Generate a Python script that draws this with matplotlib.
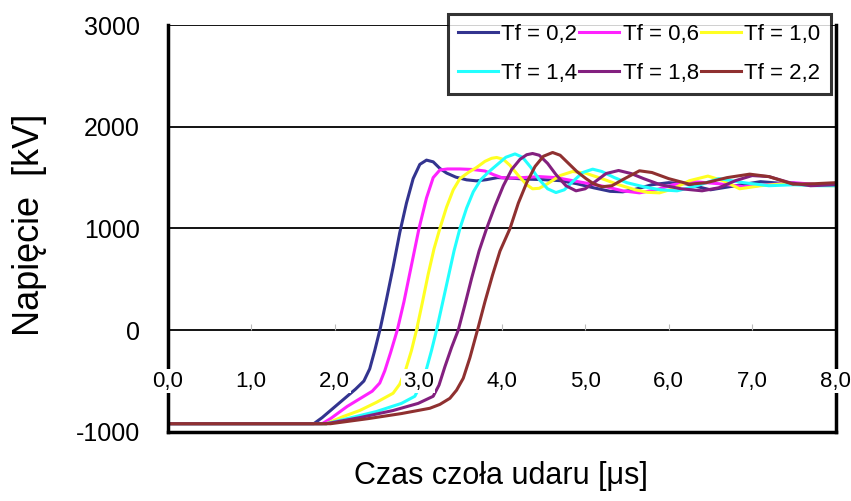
import matplotlib
matplotlib.use("Agg")
from matplotlib import pyplot as plt

plt.rcParams['font.family'] = ['Liberation Sans', 'DejaVu Sans']

# czas [us], napiecie [kV]
t_02 = [0, 1.75, 1.85, 1.95, 2.05, 2.15, 2.25, 2.35, 2.42, 2.48, 2.55, 2.62, 2.7, 2.78, 2.86, 2.94, 3.02,
        3.1, 3.18, 3.26, 3.34, 3.45, 3.58, 3.7, 3.82, 3.95, 4.1, 4.3, 4.5, 4.7, 4.9, 5.1, 5.3, 5.45,
        5.6, 5.8, 6.0, 6.2, 6.5, 6.8, 7.1, 7.4, 7.7, 8.0]
v_02 = [-920, -920, -860, -790, -720, -650, -580, -500, -380, -200, 30, 300, 620, 960, 1250, 1490, 1630,
        1672, 1655, 1590, 1545, 1505, 1478, 1468, 1480, 1500, 1495, 1485, 1480, 1470, 1440, 1400, 1365, 1360,
        1385, 1430, 1450, 1440, 1380, 1420, 1460, 1440, 1430, 1440]

t_06 = [0, 1.85, 1.95, 2.05, 2.15, 2.25, 2.35, 2.45, 2.54, 2.6, 2.67, 2.75, 2.83, 2.92, 3.01, 3.1, 3.18,
        3.26, 3.35, 3.5, 3.65, 3.8, 3.9, 4.0, 4.1, 4.25, 4.45, 4.65, 4.85, 5.05, 5.25, 5.45, 5.65, 5.85,
        6.05, 6.3, 6.6, 6.9, 7.2, 7.5, 7.8, 8.0]
v_06 = [-920, -920, -870, -810, -750, -700, -650, -600, -520, -400, -220, 0, 280, 640, 1000, 1300, 1500,
        1575, 1585, 1585, 1580, 1565, 1530, 1500, 1495, 1500, 1510, 1500, 1470, 1440, 1410, 1370, 1350, 1380,
        1430, 1460, 1440, 1410, 1430, 1450, 1430, 1430]

t_10 = [0, 1.9, 2.1, 2.3, 2.5, 2.7, 2.78, 2.85, 2.92, 2.98, 3.05, 3.12, 3.19, 3.26, 3.34, 3.42, 3.5,
        3.6, 3.7, 3.8, 3.88, 3.94, 4.02, 4.1, 4.2, 4.3, 4.37, 4.45, 4.55, 4.7, 4.85, 5.0, 5.2, 5.4,
        5.6, 5.75, 5.89, 6.05, 6.25, 6.47, 6.65, 6.85, 7.1, 7.4, 7.7, 8.0]
v_10 = [-920, -920, -850, -790, -710, -620, -530, -390, -200, 0, 270, 550, 800, 1000, 1210, 1380, 1490,
        1550, 1600, 1660, 1690, 1698, 1680, 1620, 1520, 1430, 1390, 1395, 1440, 1520, 1560, 1545, 1490, 1430,
        1380, 1355, 1350, 1390, 1470, 1515, 1470, 1390, 1420, 1440, 1425, 1420]

t_14 = [0, 1.9, 2.2, 2.5, 2.8, 2.96, 3.03, 3.1, 3.16, 3.22, 3.29, 3.36, 3.43, 3.5, 3.58, 3.66, 3.75,
        3.85, 3.95, 4.05, 4.16, 4.25, 4.35, 4.45, 4.55, 4.65, 4.75, 4.85, 4.97, 5.09, 5.2, 5.35, 5.5,
        5.7, 5.9, 6.1, 6.3, 6.6, 6.9, 7.2, 7.5, 7.8, 8.0]
v_14 = [-920, -920, -860, -800, -720, -650, -540, -380, -200, 0, 260, 520, 780, 1000, 1200, 1360, 1480,
        1560, 1630, 1700, 1733, 1700, 1600, 1480, 1390, 1353, 1380, 1460, 1550, 1583, 1560, 1500, 1450,
        1410, 1380, 1370, 1410, 1490, 1450, 1420, 1430, 1420, 1420]

t_18 = [0, 1.9, 2.3, 2.7, 3.0, 3.18, 3.25, 3.32, 3.4, 3.48, 3.56, 3.64, 3.73, 3.82, 3.92, 4.02, 4.12,
        4.22, 4.3, 4.37, 4.45, 4.55, 4.65, 4.77, 4.89, 5.0, 5.12, 5.25, 5.4, 5.55, 5.7, 5.9, 6.15,
        6.4, 6.6, 6.8, 7.0, 7.2, 7.45, 7.7, 8.0]
v_18 = [-920, -920, -860, -790, -720, -650, -540, -360, -170, 0, 250, 510, 780, 1000, 1220, 1420, 1580,
        1680, 1725, 1737, 1720, 1640, 1530, 1420, 1370, 1390, 1460, 1540, 1570, 1540, 1490, 1430, 1390,
        1370, 1400, 1470, 1520, 1510, 1450, 1420, 1430]

t_22 = [0, 1.95, 2.4, 2.8, 3.14, 3.26, 3.38, 3.46, 3.54, 3.62, 3.71, 3.8, 3.89, 3.98, 4.1, 4.2, 4.3,
        4.4, 4.5, 4.61, 4.7, 4.8, 4.9, 5.01, 5.1, 5.2, 5.32, 5.45, 5.65, 5.8, 6.0, 6.25, 6.45, 6.7,
        6.97, 7.2, 7.49, 7.75, 8.0]
v_22 = [-920, -920, -870, -820, -768, -730, -670, -590, -473, -270, 0, 280, 540, 778, 1000, 1250, 1450,
        1610, 1710, 1747, 1720, 1640, 1560, 1490, 1440, 1410, 1420, 1480, 1567, 1550, 1490, 1435, 1450, 1500,
        1534, 1510, 1435, 1440, 1450]

labels = ['Tf = 0,2', 'Tf = 0,6', 'Tf = 1,0', 'Tf = 1,4', 'Tf = 1,8', 'Tf = 2,2']
colors = ['#33348f', '#ff22ff', '#ffff22', '#22ffff', '#83207f', '#8f3030']
x_ticks = [0, 1, 2, 3, 4, 5, 6, 7, 8]
x_ticklabels = ['0,0', '1,0', '2,0', '3,0', '4,0', '5,0', '6,0', '7,0', '8,0']
y_ticks = [-1000, 0, 1000, 2000, 3000]

fig = plt.figure(figsize=(8.51, 5.01), dpi=100)
ax = fig.add_axes([0.197, 0.138, 0.785, 0.812])

series = [(t_02, v_02), (t_06, v_06), (t_10, v_10), (t_14, v_14), (t_18, v_18), (t_22, v_22)]
lines = []
for (t, v), lab, c in zip(series, labels, colors):
    ln, = ax.plot(t, v, color=c, lw=2.2, label=lab, solid_joinstyle='round')
    lines.append(ln)

ax.set_xlim(0, 8)
ax.set_ylim(-1000, 3000)
ax.set_yticks(y_ticks)
ax.set_yticklabels([str(y) for y in y_ticks], fontsize=18)
ax.tick_params(axis='y', length=0, pad=20)
ax.set_xticks([])
for y in [0, 1000, 2000, 3000]:
    ax.axhline(y, color='black', lw=1.3, zorder=0)

# tick marks on the 0 line + labels with white background
sec = ax.secondary_xaxis(0.25)
sec.set_xticks(x_ticks)
sec.set_xticklabels([])
sec.tick_params(axis='x', direction='in', length=4, color='#bbbbbb')
sec.spines['bottom'].set_visible(False)
for x, s in zip(x_ticks, x_ticklabels):
    ax.text(x, -500, s, ha='center', va='center', fontsize=16, zorder=5,
            bbox=dict(facecolor='white', edgecolor='none', pad=1))

for s in ['left', 'bottom', 'right']:
    ax.spines[s].set_linewidth(2.5)
ax.spines['top'].set_visible(False)

fig.text(0.035, 0.551, 'Napięcie  [kV]', rotation=90, ha='center', va='center', fontsize=26)
fig.text(0.589, 0.05, 'Czas czoła udaru [μs]', ha='center', va='center', fontsize=22)

# kolejnosc wierszami jak w oryginale
order = [0, 3, 1, 4, 2, 5]
leg = ax.legend([lines[i] for i in order], [labels[i] for i in order], ncol=3, loc='upper right',
                bbox_to_anchor=(0.976, 0.972), bbox_transform=fig.transFigure, fontsize=16,
                frameon=True, fancybox=False, handlelength=1.8, handletextpad=0.15,
                columnspacing=0.1, borderpad=0.45, labelspacing=0.8, borderaxespad=0)
leg.get_frame().set_edgecolor('black')
leg.get_frame().set_linewidth(2.2)
leg.set_zorder(10)

fig.savefig('out.png', dpi=100)
